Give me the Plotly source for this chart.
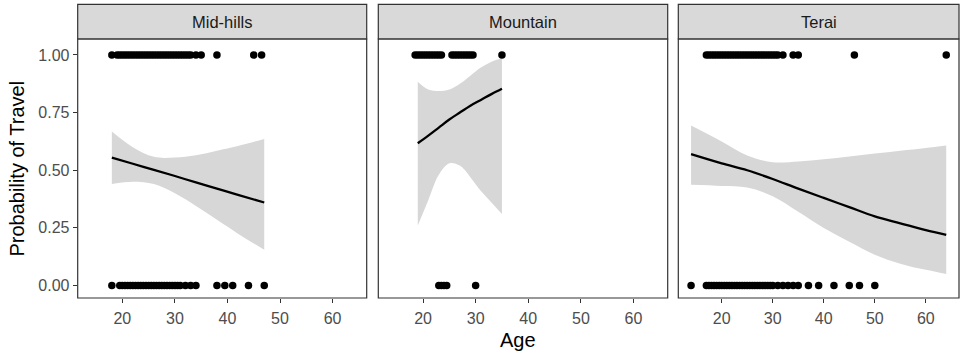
import plotly.graph_objects as go

# ---------------- data ----------------
panels = ["Mid-hills", "Mountain", "Terai"]

# observed points (Age, travelled 1/0)
mid_age_1 = [18, 19, 19.5, 20, 20.5, 21, 21.5, 22, 22.5, 23, 23.5, 24, 24.5, 25, 25.5, 26, 26.5, 27,
             27.5, 28, 28.5, 29, 29.5, 30, 30.5, 31, 31.5, 32, 32.5, 33, 34, 35, 38, 45, 46.5]
mid_age_0 = [18, 19.5, 20, 20.5, 21, 21.5, 22, 22.5, 23, 23.5, 24, 24.5, 25, 25.5, 26, 26.5, 27, 27.5,
             28, 28.5, 29, 29.5, 30, 30.5, 31, 32, 33, 34, 38, 39.5, 41, 44, 47]
mtn_age_1 = [18.5, 19, 19.5, 20, 20.5, 21, 21.5, 22, 22.5, 23, 23.5, 25.5, 26, 26.5, 27, 27.5, 28,
             28.5, 29, 29.5, 35]
mtn_age_0 = [23, 23.5, 24, 24.5, 30]
ter_age_1 = [17, 17.5, 18, 18.5, 19, 19.5, 20, 20.5, 21, 21.5, 22, 22.5, 23, 23.5, 24, 24.5, 25, 25.5,
             26, 26.5, 27, 27.5, 28, 28.5, 29, 29.5, 30, 30.5, 31, 32, 34, 35, 46, 64]
ter_age_0 = [14, 17, 17.5, 18, 18.5, 19, 19.5, 20, 20.5, 21, 21.5, 22, 22.5, 23, 23.5, 24, 24.5, 25,
             25.5, 26, 26.5, 27, 27.5, 28, 28.5, 29, 29.5, 30, 31, 32, 33, 34, 35, 37, 39, 42, 45, 47, 50]

# fitted logistic curve and 95% band
mid_fit_age = [18, 22, 26, 30, 34, 38, 42, 47]
mid_fit = [0.555, 0.528, 0.502, 0.475, 0.447, 0.42, 0.393, 0.36]
mid_hi = [0.668, 0.60, 0.558, 0.555, 0.565, 0.585, 0.605, 0.635]
mid_lo = [0.44, 0.45, 0.44, 0.40, 0.345, 0.285, 0.225, 0.155]

mtn_fit_age = [19, 21, 23, 25, 27, 29, 31, 33, 35]
mtn_fit = [0.617, 0.65, 0.685, 0.72, 0.75, 0.78, 0.805, 0.83, 0.853]
mtn_hi = [0.884, 0.85, 0.843, 0.85, 0.875, 0.91, 0.945, 0.97, 0.985]
mtn_lo = [0.26, 0.37, 0.48, 0.53, 0.52, 0.47, 0.41, 0.36, 0.31]

ter_fit_age = [14, 20, 25, 30, 35, 40, 45, 50, 55, 60, 64]
ter_fit = [0.57, 0.53, 0.50, 0.462, 0.42, 0.38, 0.34, 0.30, 0.27, 0.24, 0.22]
ter_hi = [0.694, 0.625, 0.564, 0.535, 0.538, 0.548, 0.56, 0.572, 0.584, 0.596, 0.607]
ter_lo = [0.437, 0.432, 0.425, 0.387, 0.32, 0.25, 0.19, 0.134, 0.095, 0.068, 0.05]

x_ticks = [20, 30, 40, 50, 60]
y_ticks = [0, 0.25, 0.5, 0.75, 1.0]
y_tick_text = ["0.00", "0.25", "0.50", "0.75", "1.00"]

# ---------------- layout geometry ----------------
W, H = 963, 355
panel_x = [(77.7, 366.7), (378.3, 667.7), (678.3, 959.0)]
panel_top, panel_bot, strip_top = 39.0, 298.0, 4.3
ribbon_col = "#d7d7d7"
x_range = [11.5, 66.5]
y_range = [-0.054, 1.069]
FONT = "Liberation Sans"

fig = go.Figure()

data = [
    (mid_age_1, mid_age_0, mid_fit_age, mid_fit, mid_hi, mid_lo),
    (mtn_age_1, mtn_age_0, mtn_fit_age, mtn_fit, mtn_hi, mtn_lo),
    (ter_age_1, ter_age_0, ter_fit_age, ter_fit, ter_hi, ter_lo),
]

for i, (a1, a0, fa, fv, hi, lo) in enumerate(data):
    xa = "x" if i == 0 else f"x{i+1}"
    ya = "y" if i == 0 else f"y{i+1}"
    fig.add_trace(go.Scatter(
        x=fa, y=lo, mode="lines", line=dict(width=0, color=ribbon_col, shape="spline"),
        hoverinfo="skip", xaxis=xa, yaxis=ya, showlegend=False))
    fig.add_trace(go.Scatter(
        x=fa, y=hi, mode="lines", fill="tonexty", fillcolor=ribbon_col,
        line=dict(width=0, color=ribbon_col, shape="spline"),
        hoverinfo="skip", xaxis=xa, yaxis=ya, showlegend=False))
    fig.add_trace(go.Scatter(
        x=a1 + a0, y=[1] * len(a1) + [0] * len(a0), mode="markers",
        marker=dict(color="black", size=7.5), xaxis=xa, yaxis=ya, showlegend=False))
    fig.add_trace(go.Scatter(
        x=fa, y=fv, mode="lines", line=dict(color="black", width=2.3, shape="spline"),
        xaxis=xa, yaxis=ya, showlegend=False))

shapes = []
annotations = []
ydom = [1 - panel_bot / H, 1 - panel_top / H]
layout_axes = {}
for i, (x0, x1) in enumerate(panel_x):
    suffix = "" if i == 0 else str(i + 1)
    layout_axes[f"xaxis{suffix}"] = dict(
        domain=[x0 / W, x1 / W], range=x_range, anchor=f"y{suffix}",
        tickvals=x_ticks, ticks="outside", ticklen=4, tickcolor="#333333", tickwidth=1,
        ticklabelstandoff=2,
        tickfont=dict(size=16, color="#4d4d4d", family=FONT),
        showgrid=False, zeroline=False, showline=False, fixedrange=True)
    ydict = dict(
        domain=ydom, range=y_range, anchor=f"x{suffix}",
        showgrid=False, zeroline=False, showline=False, fixedrange=True)
    if i == 0:
        ydict.update(tickvals=y_ticks, ticktext=y_tick_text, ticks="outside", ticklen=4,
                     tickcolor="#333333", tickwidth=1,
                     tickfont=dict(size=16, color="#4d4d4d", family=FONT))
    else:
        ydict.update(showticklabels=False, ticks="")
    layout_axes[f"yaxis{suffix}"] = ydict
    # panel border
    shapes.append(dict(type="rect", xref="paper", yref="paper",
                       x0=x0 / W, x1=x1 / W, y0=ydom[0], y1=ydom[1],
                       line=dict(color="#333333", width=1.2), fillcolor="rgba(0,0,0,0)",
                       layer="above"))
    # strip
    shapes.append(dict(type="rect", xref="paper", yref="paper",
                       x0=x0 / W, x1=x1 / W, y0=1 - panel_top / H, y1=1 - strip_top / H,
                       line=dict(color="#333333", width=1.2), fillcolor="#d9d9d9",
                       layer="below"))
    annotations.append(dict(text=panels[i], xref="paper", yref="paper",
                            x=(x0 + x1) / 2 / W, y=1 - (strip_top + panel_top) / 2 / H,
                            showarrow=False, xanchor="center", yanchor="middle",
                            font=dict(size=16.5, color="#1a1a1a", family=FONT)))

annotations.append(dict(text="Age", xref="paper", yref="paper",
                        x=(panel_x[0][0] + panel_x[2][1]) / 2 / W, y=1 - 340 / H,
                        showarrow=False, xanchor="center", yanchor="middle",
                        font=dict(size=20, color="black", family=FONT)))
annotations.append(dict(text="Probability of Travel", xref="paper", yref="paper",
                        x=16 / W, y=1 - (panel_top + panel_bot) / 2 / H, textangle=-90,
                        showarrow=False, xanchor="center", yanchor="middle",
                        font=dict(size=20, color="black", family=FONT)))

fig.update_layout(
    width=W, height=H, margin=dict(l=0, r=0, t=0, b=0),
    paper_bgcolor="white", plot_bgcolor="white",
    shapes=shapes, annotations=annotations, **layout_axes)

fig.write_html("out.html")
